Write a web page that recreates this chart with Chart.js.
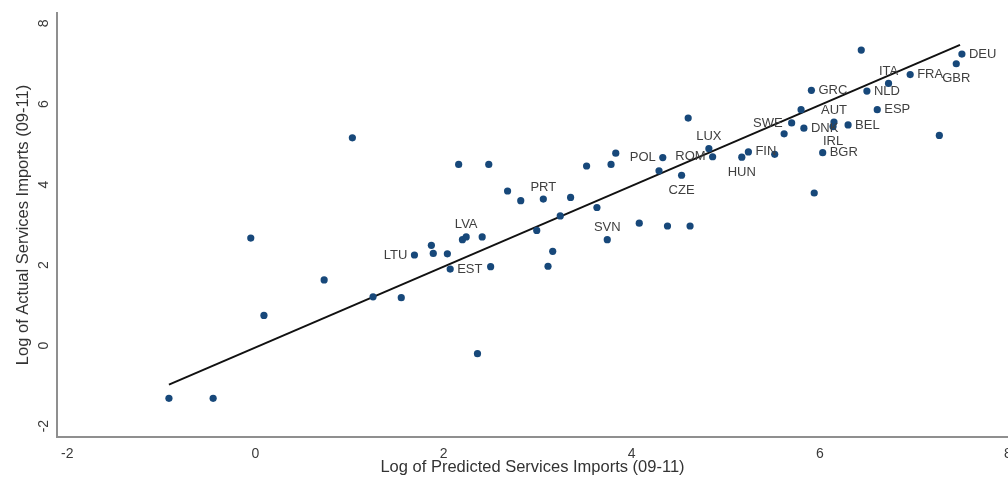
<!DOCTYPE html>
<html>
<head>
<meta charset="utf-8">
<script src="https://cdn.jsdelivr.net/npm/chart.js@4.4.1/dist/chart.umd.min.js"></script>
<style>
  html, body { margin: 0; padding: 0; background: #ffffff; overflow: hidden; }
  #wrap { position: relative; width: 1008px; height: 481px; }
</style>
</head>
<body>
<div id="wrap"><canvas id="c"></canvas></div>
<script>
// ---- data ----
const countries = [
  '', '', '', '', '', '', '', '',
  'LTU', '', '', '', 'EST', '', 'LVA', '', '', '',
  '', '', '', '', 'PRT', '', '', '', '', '', '',
  'SVN', '', '', '', '', '', '',
  'POL', '', 'CZE', 'LUX', 'ROM', '', 'HUN', 'FIN', '',
  'SWE', '', 'DNK', '', 'GRC', 'AUT', 'IRL', 'BEL', 'BGR', '',
  'NLD', 'ESP', 'ITA', '', 'FRA', 'GBR', 'DEU', ''
];
const predicted = [
  -0.92, -0.45, -0.05, 0.09, 0.73, 1.03, 1.25, 1.55,
  1.69, 1.87, 1.89, 2.04, 2.07, 2.20, 2.24, 2.41, 2.50, 2.36,
  2.16, 2.48, 2.68, 2.82, 3.06, 3.35, 2.99, 3.16, 3.11, 3.24, 3.63,
  3.74, 4.08, 4.38, 4.62, 3.52, 3.78, 3.83,
  4.33, 4.29, 4.53, 4.82, 4.86, 4.60, 5.17, 5.24, 5.52,
  5.70, 5.62, 5.83, 5.80, 5.91, 6.15, 6.14, 6.30, 6.03, 5.94,
  6.50, 6.61, 6.73, 6.44, 6.96, 7.45, 7.51, 7.27
];
const actual = [
  -1.31, -1.31, 2.67, 0.75, 1.63, 5.16, 1.21, 1.19,
  2.25, 2.49, 2.29, 2.28, 1.90, 2.63, 2.70, 2.70, 1.96, -0.20,
  4.50, 4.50, 3.84, 3.60, 3.64, 3.68, 2.86, 2.34, 1.97, 3.22, 3.43,
  2.63, 3.04, 2.97, 2.97, 4.46, 4.50, 4.78,
  4.67, 4.34, 4.23, 4.89, 4.69, 5.65, 4.68, 4.81, 4.75,
  5.53, 5.26, 5.40, 5.86, 6.34, 5.55, 5.44, 5.48, 4.79, 3.79,
  6.32, 5.86, 6.51, 7.34, 6.73, 7.00, 7.24, 5.22
];
const fitX = [-0.92, 7.49];
const fitY = [-0.97, 7.47];
const xTicks = [-2, 0, 2, 4, 6, 8];
const yTicks = [-2, 0, 2, 4, 6, 8];
const xTitle = 'Log of Predicted Services Imports (09-11)';
const yTitle = 'Log of Actual Services Imports (09-11)';

// ---- label placement (style) ----
const labelPlace = {
  LTU: 'left', POL: 'left', ROM: 'left', SWE: 'left',
  EST: 'right', FIN: 'right', DNK: 'right', BEL: 'right', BGR: 'right',
  GRC: 'right', NLD: 'right', ESP: 'right', FRA: 'right', DEU: 'right',
  GBR: 'below', IRL: 'below', CZE: 'below', HUN: 'below',
  ITA: 'above', AUT: 'above', LUX: 'above', PRT: 'above', SVN: 'above', LVA: 'above'
};

const FONT = '"Liberation Sans", Arial, Helvetica, sans-serif';

const labelPlugin = {
  id: 'pointLabels',
  afterDatasetsDraw(chart) {
    const meta = chart.getDatasetMeta(0);
    const ctx = chart.ctx;
    ctx.save();
    ctx.font = '13px ' + FONT;
    ctx.fillStyle = '#3f3f3f';
    ctx.textBaseline = 'middle';
    meta.data.forEach((el, i) => {
      const name = countries[i];
      if (!name) return;
      const place = labelPlace[name] || 'right';
      let x = el.x, y = el.y;
      if (place === 'left') { ctx.textAlign = 'right'; x -= (name === 'SWE' ? 9 : 7); }
      else if (place === 'right') { ctx.textAlign = 'left'; x += 7; }
      else if (place === 'above') { ctx.textAlign = 'center'; y -= 12; }
      else { ctx.textAlign = 'center'; y += 15; }
      ctx.fillText(name, x, y);
    });
    ctx.restore();
  }
};

const points = predicted.map((v, i) => ({ x: v, y: actual[i] }));
const fitLine = fitX.map((v, i) => ({ x: v, y: fitY[i] }));

new Chart(document.getElementById('c'), {
  type: 'scatter',
  data: {
    datasets: [
      {
        data: points,
        pointRadius: 3.6,
        pointHoverRadius: 3.6,
        pointBackgroundColor: '#17487a',
        pointBorderWidth: 0,
        showLine: false
      },
      {
        type: 'line',
        data: fitLine,
        borderColor: '#111111',
        borderWidth: 2,
        pointRadius: 0,
        fill: false,
        tension: 0
      }
    ]
  },
  options: {
    responsive: true,
    maintainAspectRatio: false,
    animation: false,
    events: [],
    layout: { autoPadding: false, padding: { top: 13, left: 0, right: 0, bottom: 0 } },
    plugins: {
      legend: { display: false },
      tooltip: { enabled: false }
    },
    scales: {
      x: {
        type: 'linear',
        min: -2.11,
        max: 8.0,
        afterBuildTicks: (s) => { s.ticks = xTicks.map(v => ({ value: v })); },
        afterFit: (s) => { s.height = 44; s.paddingLeft = 0; s.paddingRight = 0; },
        grid: { display: false, drawTicks: false },
        border: { display: true, color: '#8f8f8f', width: 2 },
        ticks: {
          padding: 9,
          color: '#3a3a3a',
          font: { family: FONT, size: 14 },
          maxRotation: 0,
          autoSkip: false
        },
        title: {
          display: true,
          text: xTitle,
          color: '#333333',
          font: { family: FONT, size: 16.5 },
          padding: { top: 0, bottom: 4 }
        }
      },
      y: {
        type: 'linear',
        min: -2.27,
        max: 8.26,
        afterBuildTicks: (s) => { s.ticks = yTicks.map(v => ({ value: v })); },
        afterFit: (s) => { s.width = 57; s.paddingTop = 0; s.paddingBottom = 0; },
        grid: { display: false, drawTicks: false },
        border: { display: true, color: '#8f8f8f', width: 2 },
        ticks: {
          padding: 7,
          color: '#3a3a3a',
          font: { family: FONT, size: 14 },
          minRotation: 90,
          maxRotation: 90,
          crossAlign: 'center',
          autoSkip: false
        },
        title: {
          display: true,
          text: yTitle,
          color: '#333333',
          font: { family: FONT, size: 16.5 },
          padding: { top: 14, bottom: 0 }
        }
      }
    }
  },
  plugins: [labelPlugin]
});
</script>
</body>
</html>
